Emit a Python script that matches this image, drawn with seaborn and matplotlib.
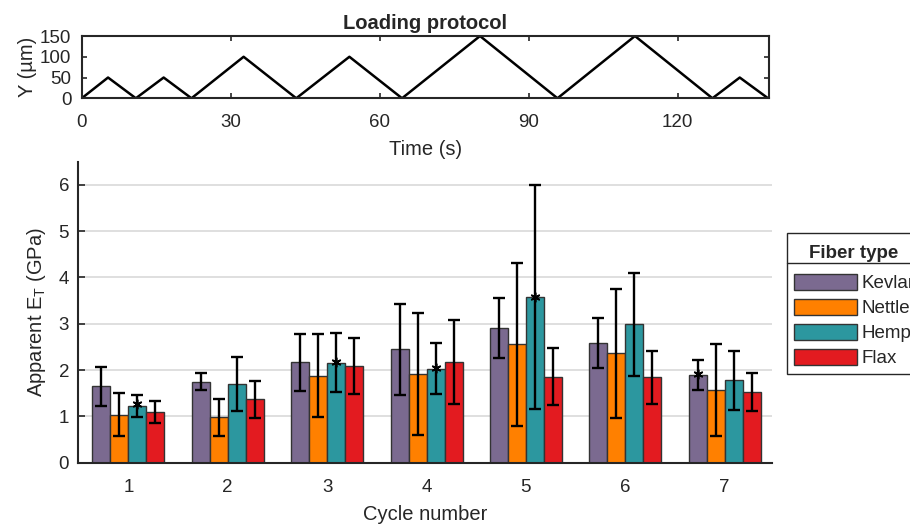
import numpy as np
import pandas as pd
import matplotlib
matplotlib.use("Agg")
import matplotlib.pyplot as plt
from matplotlib.lines import Line2D
import seaborn as sns

# ---------------- data ----------------
time_s = [0, 5.3, 10.9, 16.5, 22.1, 32.6, 43.2, 53.9, 64.5, 80.2, 95.8, 111.4, 127.0, 132.5, 138.2]
disp_um = [0, 50, 0, 50, 0, 100, 0, 100, 0, 150, 0, 150, 0, 50, 0]

cycles = ["1", "2", "3", "4", "5", "6", "7"]
fibers = ["Kevlar", "Nettle", "Hemp", "Flax"]

kevlar_mean = [1.66, 1.75, 2.17, 2.45, 2.90, 2.58, 1.89]
kevlar_hi = [2.07, 1.94, 2.78, 3.43, 3.56, 3.12, 2.22]
kevlar_lo = [1.22, 1.58, 1.55, 1.46, 2.26, 2.04, 1.58]

nettle_mean = [1.04, 0.98, 1.88, 1.92, 2.56, 2.36, 1.57]
nettle_hi = [1.50, 1.37, 2.78, 3.23, 4.31, 3.76, 2.57]
nettle_lo = [0.58, 0.58, 0.99, 0.60, 0.79, 0.97, 0.58]

hemp_mean = [1.22, 1.69, 2.16, 2.03, 3.58, 2.99, 1.78]
hemp_hi = [1.46, 2.28, 2.80, 2.58, 5.99, 4.09, 2.41]
hemp_lo = [0.99, 1.12, 1.53, 1.48, 1.17, 1.87, 1.14]

flax_mean = [1.09, 1.37, 2.08, 2.18, 1.86, 1.84, 1.53]
flax_hi = [1.34, 1.77, 2.69, 3.08, 2.48, 2.41, 1.94]
flax_lo = [0.86, 0.97, 1.48, 1.27, 1.24, 1.27, 1.12]

star_fibers = ["Hemp", "Hemp", "Hemp", "Hemp", "Kevlar"]
star_cycles = ["1", "3", "4", "5", "7"]
star_values = [1.26, 2.17, 2.04, 3.57, 1.91]

colors = ["#7b6a90", "#ff8000", "#2c979f", "#e31b20"]

means = {"Kevlar": kevlar_mean, "Nettle": nettle_mean, "Hemp": hemp_mean, "Flax": flax_mean}
his = {"Kevlar": kevlar_hi, "Nettle": nettle_hi, "Hemp": hemp_hi, "Flax": flax_hi}
los = {"Kevlar": kevlar_lo, "Nettle": nettle_lo, "Hemp": hemp_lo, "Flax": flax_lo}

df = pd.DataFrame(
    [(c, f, means[f][i]) for f in fibers for i, c in enumerate(cycles)],
    columns=["Cycle", "Fiber", "E"],
)
proto = pd.DataFrame({"t": time_s, "y": disp_um})

# ---------------- style ----------------
sns.set_theme(style="white")
dark = "#262626"
plt.rcParams["font.family"] = ["Liberation Sans", "DejaVu Sans"]
plt.rcParams["mathtext.default"] = "regular"
plt.rcParams["text.color"] = dark
plt.rcParams["axes.labelcolor"] = dark
plt.rcParams["xtick.color"] = dark
plt.rcParams["ytick.color"] = dark

fig = plt.figure(figsize=(9.1, 5.25), dpi=100)
ax_top = fig.add_axes([0.0898, 0.8128, 0.7553, 0.1186])
ax = fig.add_axes([0.0852, 0.1187, 0.7632, 0.5733])

# ---------------- top: loading protocol ----------------
sns.lineplot(data=proto, x="t", y="y", sort=False, estimator=None,
             color="black", lw=1.8, ax=ax_top)
ax_top.set_xlim(0, 138.4)
ax_top.set_ylim(0, 150)
ax_top.set_xticks([0, 30, 60, 90, 120])
ax_top.set_yticks([0, 50, 100, 150])
ax_top.tick_params(axis="x", direction="in", length=3.5, width=1.2, labelsize=13.5,
                   top=True, bottom=True, pad=11)
ax_top.tick_params(axis="y", direction="in", length=3.5, width=1.2, labelsize=13.5,
                   left=True, right=True, pad=7.5)
for s in ax_top.spines.values():
    s.set_color(dark)
    s.set_linewidth(1.5)
ax_top.set_xlabel("Time (s)", fontsize=14.5, labelpad=6.5)
ax_top.set_ylabel("Y (µm)", fontsize=14.5, labelpad=2)
ax_top.set_title("Loading protocol", fontsize=14.5, fontweight="bold", pad=5)

# ---------------- bottom: bar chart ----------------
sns.barplot(data=df, x="Cycle", y="E", hue="Fiber", order=cycles, hue_order=fibers,
            palette=colors, errorbar=None, width=0.724, gap=0, saturation=1,
            edgecolor="#333333", linewidth=1.0, ax=ax, zorder=2)

for fi, f in enumerate(fibers):
    cont = ax.containers[fi]
    xs = [p.get_x() + p.get_width() / 2 for p in cont.patches]
    m = np.array(means[f])
    yerr = [m - np.array(los[f]), np.array(his[f]) - m]
    ax.errorbar(xs, m, yerr=yerr, fmt="none", ecolor="black", elinewidth=1.7,
                capsize=4.5, capthick=1.7, zorder=4)
    sx, sy = [], []
    for sf, sc, sv in zip(star_fibers, star_cycles, star_values):
        if sf == f:
            sx.append(xs[cycles.index(sc)])
            sy.append(sv)
    if sx:
        ax.plot(sx, sy, linestyle="none", marker=(6, 2, 0), markersize=7,
                color="black", markeredgewidth=1.2, zorder=5)

ax.set_xlim(-0.511, 6.476)
ax.set_ylim(0, 6.5)
ax.set_yticks([0, 1, 2, 3, 4, 5, 6])
ax.yaxis.grid(True, color="#dcdcdc", linewidth=1.3, zorder=0)
ax.set_axisbelow(True)
ax.tick_params(axis="y", direction="in", length=5, width=1.2, labelsize=13.5, left=True, pad=6)
ax.tick_params(axis="x", length=0, labelsize=13.5, pad=11.5)
for side in ["top", "right"]:
    ax.spines[side].set_visible(False)
for side in ["left", "bottom"]:
    ax.spines[side].set_color(dark)
    ax.spines[side].set_linewidth(1.5)
ax.set_xlabel("Cycle number", fontsize=14.5, labelpad=7)
ax.set_ylabel("Apparent E$_{T}$ (GPa)", fontsize=14.5, labelpad=8)

sns.move_legend(ax, loc="upper left", bbox_to_anchor=(1.0216, 0.762),
                borderaxespad=0, title="\nFiber type\n", frameon=True, fancybox=False,
                fontsize=13.5, title_fontproperties={"weight": "bold", "size": 13.5},
                handlelength=3.4, handleheight=1.0, handletextpad=0.2,
                labelspacing=0.33, borderpad=0.35, edgecolor=dark, framealpha=1)
leg = ax.get_legend()
leg.get_title().set_linespacing(0.1)
leg.get_frame().set_linewidth(1.0)
for h in leg.legend_handles:
    h.set_edgecolor("#333333")
    h.set_linewidth(1.0)

fig.add_artist(Line2D([787 / 910, 1.0], [1 - 263 / 525] * 2, color=dark, lw=1.0))

fig.savefig("out.png", dpi=100)
